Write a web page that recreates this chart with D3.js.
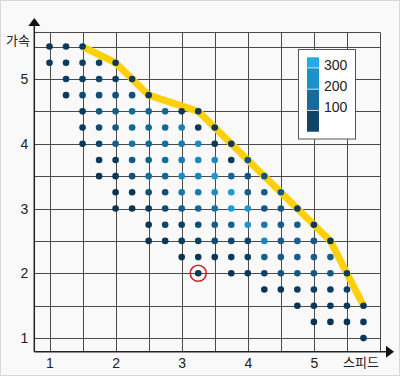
<!DOCTYPE html>
<html lang="ko">
<head>
<meta charset="UTF-8">
<title>스피드 / 가속</title>
<script src="https://d3js.org/d3.v7.min.js"></script>
<style>
    body { margin: 0; background: #f9f9f9; }
    svg { display: block; }
    .tick text { font-family: "Liberation Sans", Arial, sans-serif; font-size: 14px; fill: #222; }
    .name { font-family: "Noto Sans CJK KR", sans-serif; font-size: 13px; fill: #222; }
    .legend text { font-family: "Liberation Sans", Arial, sans-serif; font-size: 14px; fill: #222; }
</style>
</head>
<body>
<script>
    // each row of dots: acceleration, first speed, values (step 0.25 in speed, null = no dot)
    const rowAccel = [5.5, 5.25, 5.0, 4.75, 4.5, 4.25, 4.0, 3.75, 3.5, 3.25, 3.0, 2.75, 2.5, 2.25, 2.0, 1.75, 1.5, 1.25, 1.0];
    const rowStart = [1.0, 1.0, 1.25, 1.25, 1.5, 1.5, 1.5, 1.75, 1.75, 2.0, 2.0, 2.5, 2.5, 3.0, 3.25, 4.25, 4.75, 5.0, 5.75];
    const rowValues = [
        [40, 40, 40],
        [40, 45, 60, 60, 40],
        [50, 60, 70, 50, 45],
        [45, 80, 90, 100, 100, 40],
        [40, 120, 130, 160, 150, 150, 40, 40],
        [40, 90, 120, 150, 160, 150, 220, 40, 40],
        [40, 70, 130, 180, 160, 170, 210, 250, 40, 40],
        [35, 40, 120, 140, 170, 210, 240, 250, 40, 110],
        [30, 35, 100, 170, 150, 250, 230, 290, 150, 110, 110],
        [30, 35, 100, 90, 190, 200, 260, 290, 130, 130, 120],
        [30, 30, 40, 90, 130, 150, 180, 290, 280, 120, 120, 50],
        [35, 70, 60, 90, 130, 140, 280, 200, 130, 130, 40],
        [30, 35, 50, 60, 90, 80, 70, 240, 130, 140, 120, 35],
        [30, 35, 35, 45, 55, 140, 130, 130, 130, 130],
        [30, null, 30, 40, 70, 110, 120, 120, 120, 50],
        [30, 35, 50, 55, 55, 55],
        [30, 35, 45, 45, 35],
        [30, 30, 30, 35],
        [35]
    ];

    const frontierSpeed = [1.5, 2.0, 2.25, 2.5, 3.25, 3.5, 3.75, 4.0, 4.25, 4.5, 4.75, 5.0, 5.25, 5.5, 5.75];
    const frontierAccel = [5.5, 5.25, 5.0, 4.75, 4.5, 4.25, 4.0, 3.75, 3.5, 3.25, 3.0, 2.75, 2.5, 2.0, 1.5];

    const marked = [3.25, 2.0];

    const xTicks = [1, 2, 3, 4, 5];
    const yTicks = [1, 2, 3, 4, 5];
    const legendTicks = [100, 200, 300];
    const legendBands = [0, 100, 200, 300, 350];

    const width = 400, height = 376;

    const svg = d3.select("body").append("svg")
        .attr("width", width)
        .attr("height", height);

    svg.append("rect")
        .attr("x", 0.5).attr("y", 0.5)
        .attr("width", width - 1).attr("height", height - 1)
        .attr("fill", "#f9f9f9")
        .attr("stroke", "#d8d8d8");

    const x = d3.scaleLinear().domain([0.77, 6.0]).range([34.3, 380]);
    const y = d3.scaleLinear().domain([0.79, 5.72]).range([351.7, 32.3]);

    const color = d3.scaleLinear()
        .domain([30, 130, 230, 320])
        .range(["#0b3454", "#135e8a", "#1884be", "#20a3de"]);

    // grid
    const gridX = d3.range(1, 6.01, 0.5);
    const gridY = d3.range(1, 5.51, 0.5).concat([5.72]);
    const grid = svg.append("g").attr("stroke", "#4a4a4a").attr("stroke-width", 1);
    grid.selectAll(".gx").data(gridX).enter().append("line")
        .attr("x1", d => Math.round(x(d)) + 0.5).attr("x2", d => Math.round(x(d)) + 0.5)
        .attr("y1", y(5.72)).attr("y2", y(0.79));
    grid.selectAll(".gy").data(gridY).enter().append("line")
        .attr("y1", d => Math.round(y(d)) + 0.5).attr("y2", d => Math.round(y(d)) + 0.5)
        .attr("x1", x(0.77)).attr("x2", x(6.0));

    // axes with arrows
    const axes = svg.append("g").attr("stroke", "#222").attr("stroke-width", 1.5);
    axes.append("line").attr("x1", x(0.77)).attr("x2", x(0.77)).attr("y1", y(0.79)).attr("y2", 24);
    axes.append("line").attr("x1", x(0.77)).attr("x2", 388).attr("y1", y(0.79)).attr("y2", y(0.79));
    svg.append("path")
        .attr("d", `M${x(0.77)},18 L${x(0.77) - 6},26 L${x(0.77) + 6},26 Z`)
        .attr("fill", "#111");
    svg.append("path")
        .attr("d", `M394,${y(0.79)} L386,${y(0.79) - 6} L386,${y(0.79) + 6} Z`)
        .attr("fill", "#111");

    svg.append("g")
        .attr("transform", `translate(0,${y(0.79)})`)
        .call(d3.axisBottom(x).tickValues(xTicks).tickSize(0).tickPadding(6).tickFormat(d3.format("d")))
        .call(g => g.select(".domain").remove());

    svg.append("g")
        .attr("transform", `translate(${x(0.77)},0)`)
        .call(d3.axisLeft(y).tickValues(yTicks).tickSize(0).tickPadding(6).tickFormat(d3.format("d")))
        .call(g => g.select(".domain").remove());

    svg.append("text").attr("class", "name")
        .attr("x", 6).attr("y", 45).text("가속");
    svg.append("text").attr("class", "name")
        .attr("x", 343).attr("y", 367).text("스피드");

    // frontier
    const frontier = frontierSpeed.map((s, i) => [s, frontierAccel[i]]);
    svg.append("path")
        .datum(frontier)
        .attr("fill", "none")
        .attr("stroke", "#fdd00c")
        .attr("stroke-width", 7)
        .attr("stroke-linejoin", "round")
        .attr("stroke-linecap", "butt")
        .attr("d", d3.line().x(d => x(d[0])).y(d => y(d[1])));

    // dots
    const dots = [];
    rowAccel.forEach((a, r) => {
        rowValues[r].forEach((v, i) => {
            if (v !== null) dots.push({ speed: rowStart[r] + i * 0.25, accel: a, value: v });
        });
    });

    svg.append("g").selectAll("circle")
        .data(dots)
        .enter().append("circle")
        .attr("cx", d => x(d.speed))
        .attr("cy", d => y(d.accel))
        .attr("r", 3.3)
        .attr("fill", d => color(d.value));

    svg.append("circle")
        .attr("cx", x(marked[0])).attr("cy", y(marked[1]))
        .attr("r", 8)
        .attr("fill", "none")
        .attr("stroke", "#d4222b")
        .attr("stroke-width", 1.6);

    // legend
    const legend = svg.append("g").attr("class", "legend");
    legend.append("rect")
        .attr("x", 298.5).attr("y", 49.5).attr("width", 57).attr("height", 89.5)
        .attr("fill", "#fff").attr("stroke", "#555").attr("stroke-width", 1);

    const ly = d3.scaleLinear().domain([0, 350]).range([131.7, 57.3]);
    const bands = d3.pairs(legendBands);
    legend.selectAll(".band").data(bands).enter().append("rect")
        .attr("x", 307).attr("width", 12)
        .attr("y", d => ly(d[1])).attr("height", d => ly(d[0]) - ly(d[1]))
        .attr("fill", d => color((d[0] + d[1]) / 2 + 20));
    legend.selectAll(".sep").data(legendTicks).enter().append("line")
        .attr("x1", 307).attr("x2", 319)
        .attr("y1", d => ly(d)).attr("y2", d => ly(d))
        .attr("stroke", "#fff").attr("stroke-opacity", 0.7).attr("stroke-width", 1);
    legend.selectAll(".lab").data(legendTicks).enter().append("text")
        .attr("x", 324).attr("y", d => ly(d) - 2)
        .attr("dominant-baseline", "middle")
        .text(d => d);
</script>
</body>
</html>
